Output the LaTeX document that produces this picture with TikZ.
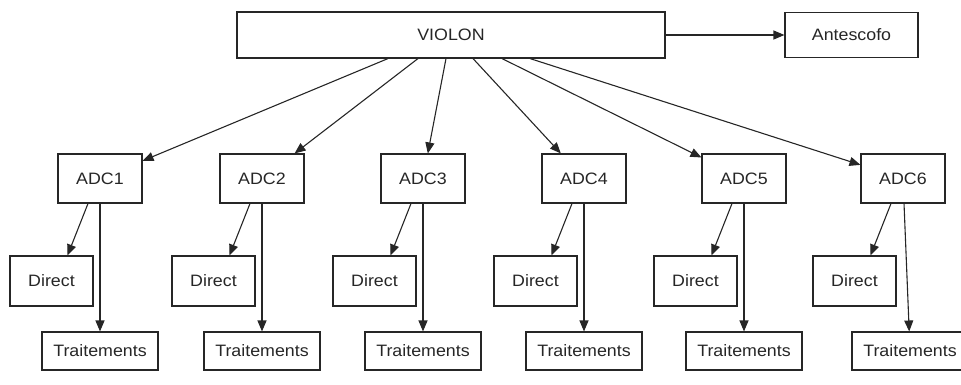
\documentclass[tikz,border=0pt]{standalone}
\usepackage{fontspec}
\newfontfamily\labfont[FakeStretch=1.08]{Liberation Sans}
\usetikzlibrary{arrows.meta,calc}
\begin{document}
\begin{tikzpicture}[x=1pt,y=-1pt,
  box/.style={draw=black!85,line width=1.1pt,inner sep=0pt,font=\labfont\fontsize{16.5}{19}\selectfont,text=black!85},
  arr/.style={draw=black!85,line width=1.1pt,-{Triangle[length=11pt,width=9pt]}}]
\useasboundingbox (0,0) rectangle (961,384);
\node[box,minimum width=428pt,minimum height=46pt] (violon) at (451,35) {VIOLON};
\node[box,minimum width=133pt,minimum height=45pt] (ante) at (851.5,35) {Antescofo};
\draw[arr] (violon) -- (ante);
\foreach \i/\L/\tl/\s in {1/58/-16/-63,2/220/-16/-33,3/381/-16/-5,4/542/-16/22,5/702/-16/51,6/861/-9/79}{
  \node[box,minimum width=84pt,minimum height=49pt] (adc\i) at ({\L+42},178.5) {ADC\i};
  \node[box,minimum width=83pt,minimum height=50pt] (dir\i) at ({\L-48+41.5},281) {Direct};
  \node[box,minimum width=116pt,minimum height=38pt] (tr\i) at ({\L+\tl+58},351) {Traitements};
  \coordinate (vs\i) at ($(violon.south)+(\s,0)$);
  \draw[arr] (vs\i) -- (adc\i);
  \draw[arr] ($(adc\i.south)+(-12,0)$) -- ($(dir\i.north)+(16,0)$);
  \draw[arr] (adc\i) -- (tr\i);
}
\end{tikzpicture}
\end{document}
